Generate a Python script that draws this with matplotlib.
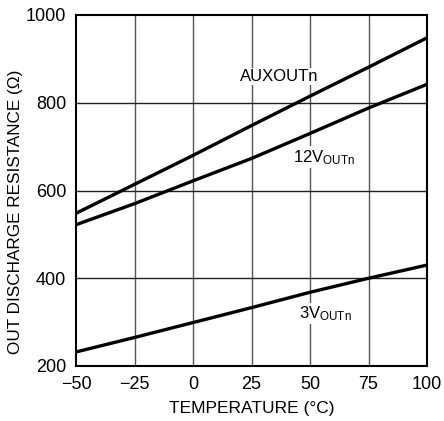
import matplotlib
matplotlib.use("Agg")
import matplotlib.pyplot as plt
from matplotlib import font_manager

names = {f.name for f in font_manager.fontManager.ttflist}
fam = "Liberation Sans Narrow" if "Liberation Sans Narrow" in names else "Liberation Sans"
plt.rcParams['font.family'] = [fam, 'DejaVu Sans']
plt.rcParams['mathtext.fontset'] = 'custom'
plt.rcParams['mathtext.rm'] = fam
plt.rcParams['mathtext.it'] = fam

temps = [-50, -25, 0, 25, 50, 75, 100]
aux = [548, 614, 680, 748, 815, 881, 948]
v12 = [522, 570, 622, 673, 730, 788, 842]
v3 = [232, 265, 299, 333, 368, 400, 430]

xticks = [-50, -25, 0, 25, 50, 75, 100]
xticklabels = ["\u221250", "\u221225", "0", "25", "50", "75", "100"]
yticks = [200, 400, 600, 800, 1000]

fig = plt.figure(figsize=(4.44, 4.21), dpi=100)
ax = fig.add_axes([76/444, 1-366/421, 351/444, 351/421])

ax.set_xlim(-50, 100)
ax.set_ylim(200, 1000)
ax.set_xticks(xticks)
ax.set_xticklabels(xticklabels)
ax.set_yticks(yticks)
for x in xticks[1:-1]:
    ax.axvline(x, color='#555555', lw=1.0, zorder=1)
for y in yticks[1:-1]:
    ax.axhline(y, color='#222222', lw=1.0, zorder=1)

for ys in (aux, v12, v3):
    ax.plot(temps, ys, color='black', lw=2.4, zorder=3, solid_capstyle='butt')

bb = dict(facecolor='white', edgecolor='none', pad=1.0)
ax.text(37, 860, "AUXOUTn", ha='center', va='center', fontsize=12, bbox=bb, zorder=2)
ax.text(56, 676, r"12V$_\mathregular{OUTn}$", ha='center', va='center', fontsize=12, bbox=bb, zorder=2)
ax.text(56.5, 320, r"3V$_\mathregular{OUTn}$", ha='center', va='center', fontsize=12, bbox=bb, zorder=2)

ax.tick_params(axis='x', length=0, labelsize=13, pad=7)
ax.tick_params(axis='y', length=0, labelsize=13, pad=7)
for s in ax.spines.values():
    s.set_linewidth(1.5)
ax.set_xlabel("TEMPERATURE (°C)", fontsize=12.5, labelpad=6)
ax.set_ylabel("OUT DISCHARGE RESISTANCE (Ω)", fontsize=12.3)
ax.yaxis.set_label_coords(-0.15, 0.44)

fig.savefig("out.png", dpi=100)
